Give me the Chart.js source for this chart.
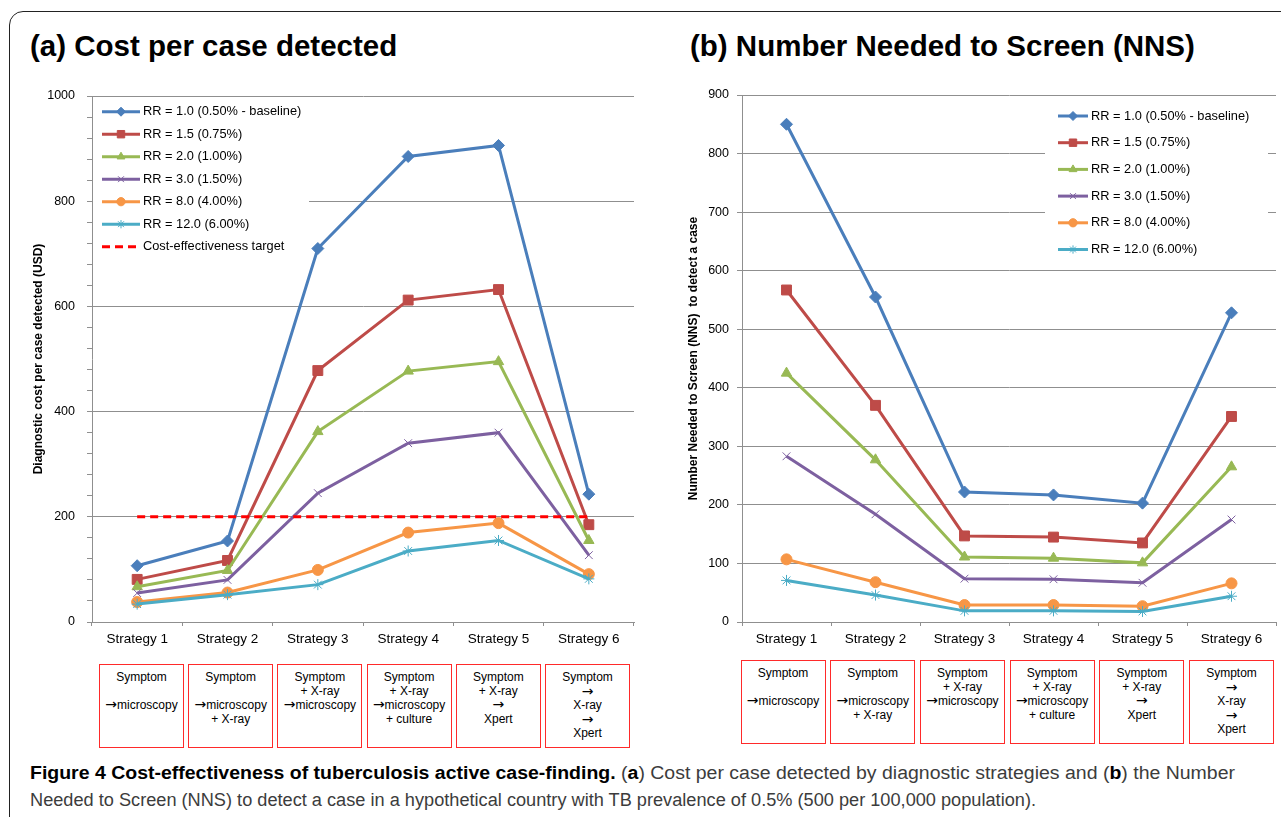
<!DOCTYPE html>
<html>
<head>
<meta charset="utf-8">
<script src="https://cdn.jsdelivr.net/npm/chart.js@4.4.1/dist/chart.umd.min.js"></script>
<style>
  body { margin: 0; background: #fff; width: 1281px; height: 817px; overflow: hidden; position: relative;
         font-family: 'Liberation Sans', Arial, sans-serif; }
  #frame { position: absolute; left: 9px; top: 11px; width: 1320px; height: 900px;
           border: 1.5px solid #222; border-radius: 14px; }
  .title { position: absolute; top: 29px; font-weight: bold; font-size: 29.5px; line-height: 34px;
           color: #000; white-space: nowrap; }
  canvas { position: absolute; top: 0; }
  .box { position: absolute; box-sizing: border-box; border: 1.5px solid #ff2a2a; font-size: 12px;
         line-height: 13.5px; text-align: center; padding-top: 6px; color: #000; }
  .box .ar { font-family: 'DejaVu Sans', sans-serif; font-size: 14px; line-height: 13.5px; }
  .cap { position: absolute; left: 30px; white-space: nowrap; line-height: 20px; font-size: 18px; color: #3c3c3c;
         font-family: 'Liberation Sans Narrow', 'Liberation Sans', sans-serif; transform-origin: 0 50%; }
  .cap b { color: #000; }
</style>
</head>
<body>
<div id="frame"></div>
<div class="title" style="left:30px">(a) Cost per case detected</div>
<div class="title" style="left:690px">(b) Number Needed to Screen (NNS)</div>
<canvas id="costChart" width="660" height="660" style="left:0px;width:660px;height:660px"></canvas>
<canvas id="nnsChart" width="621" height="660" style="left:660px;width:621px;height:660px"></canvas>
<div class="cap" id="cap1" style="top:763px"><b>Figure 4 Cost-effectiveness of tuberculosis active case-finding.</b> (<b>a</b>) Cost per case detected by diagnostic strategies and (<b>b</b>) the Number</div>
<div class="cap" id="cap2" style="top:790px">Needed to Screen (NNS) to detect a case in a hypothetical country with TB prevalence of 0.5% (500 per 100,000 population).</div>
<script>
const strategies = ['Strategy 1', 'Strategy 2', 'Strategy 3', 'Strategy 4', 'Strategy 5', 'Strategy 6'];
const strategyBoxes = [
  ['Symptom', '', '→microscopy'],
  ['Symptom', '', '→microscopy', '+ X-ray'],
  ['Symptom', '+ X-ray', '→microscopy'],
  ['Symptom', '+ X-ray', '→microscopy', '+ culture'],
  ['Symptom', '+ X-ray', '→', 'Xpert'],
  ['Symptom', '→', 'X-ray', '→', 'Xpert']
];
const seriesNames = ['RR = 1.0 (0.50% - baseline)', 'RR = 1.5 (0.75%)', 'RR = 2.0 (1.00%)',
                     'RR = 3.0 (1.50%)', 'RR = 8.0 (4.00%)', 'RR = 12.0 (6.00%)'];
const targetName = 'Cost-effectiveness target';

// (a) diagnostic cost per case detected (USD)
const costRR10 = [107, 154, 710, 885, 906, 243];
const costRR15 = [81, 117, 478, 612, 632, 185];
const costRR20 = [67, 98, 362, 477, 495, 155];
const costRR30 = [55, 80, 245, 340, 360, 127];
const costRR80 = [38, 56, 99, 170, 188, 91];
const costRR120 = [34, 52, 71, 135, 155, 82];
const costTarget = [200, 200, 200, 200, 200, 200];
const costTicks = [0, 200, 400, 600, 800, 1000];

// (b) number needed to screen
const nnsRR10 = [850, 555, 222, 217, 203, 528];
const nnsRR15 = [567, 370, 147, 145, 135, 351];
const nnsRR20 = [425, 277, 111, 109, 101, 265];
const nnsRR30 = [283, 184, 74, 73, 67, 175];
const nnsRR80 = [107, 68, 29, 29, 27, 66];
const nnsRR120 = [71, 46, 19, 19, 18, 44];
const nnsTicks = [0, 100, 200, 300, 400, 500, 600, 700, 800, 900];

const colors = ['#4a7ebb', '#be4b48', '#98b954', '#7d60a0', '#f79646', '#4bacc6'];
const markers = ['rectRot', 'rect', 'triangle', 'crossRot', 'circle', 'star'];
const markerSizes = [6, 7, 6, 5.5, 5.5, 5.5];
const gridColor = '#8f8f8f';

Chart.defaults.font.family = "'Liberation Sans', Arial, sans-serif";
Chart.defaults.color = '#000';

function series(name, values, i) {
  return {
    label: name,
    data: values,
    borderColor: colors[i],
    backgroundColor: colors[i],
    pointBackgroundColor: colors[i],
    pointBorderColor: colors[i],
    pointBorderWidth: 1,
    borderWidth: 3,
    pointStyle: markers[i],
    pointRadius: markerSizes[i],
    tension: 0,
    order: 6 - i
  };
}

// legend drawn inside the plot area, on a white patch
const insideLegend = {
  id: 'insideLegend',
  afterDatasetsDraw(chart, args, o) {
    const ctx = chart.ctx;
    ctx.save();
    ctx.fillStyle = '#fff';
    ctx.fillRect(o.box[0], o.box[1], o.box[2], o.box[3]);
    chart.data.datasets.forEach((ds, i) => {
      const y = o.y + i * o.step;
      ctx.strokeStyle = ds.borderColor;
      ctx.lineWidth = ds.borderWidth;
      ctx.setLineDash(ds.borderDash || []);
      ctx.beginPath();
      ctx.moveTo(o.x, y);
      ctx.lineTo(o.x + o.len, y);
      ctx.stroke();
      ctx.setLineDash([]);
      if (ds.pointRadius > 0 && Chart.helpers && Chart.helpers.drawPoint) {
        ctx.fillStyle = ds.pointBackgroundColor;
        ctx.strokeStyle = ds.pointBorderColor;
        ctx.lineWidth = ds.pointBorderWidth;
        Chart.helpers.drawPoint(ctx, {pointStyle: ds.pointStyle, radius: ds.pointRadius * 0.75,
                                      rotation: 0, borderWidth: ds.pointBorderWidth}, o.x + o.len / 2, y);
      }
      ctx.fillStyle = '#000';
      ctx.font = o.font;
      ctx.textAlign = 'left';
      ctx.textBaseline = 'middle';
      ctx.fillText(ds.label, o.x + o.len + o.gap, y);
    });
    ctx.restore();
  }
};

function makeChart(id, datasets, yMax, yStep, yTicks, yTitle, dims, legendOpts) {
  return new Chart(document.getElementById(id), {
    type: 'line',
    data: { labels: strategies, datasets: datasets },
    plugins: [insideLegend],
    options: {
      responsive: false,
      maintainAspectRatio: false,
      animation: false,
      layout: { autoPadding: false, padding: { top: dims.top, right: dims.right, left: 0, bottom: 0 } },
      plugins: {
        legend: { display: false },
        tooltip: { enabled: false },
        insideLegend: legendOpts
      },
      scales: {
        x: {
          offset: true,
          grid: { offset: true, drawOnChartArea: false, tickLength: 4, color: gridColor },
          border: { color: gridColor },
          ticks: { font: { size: 13.5 }, padding: 5, color: '#000', maxRotation: 0 },
          afterFit: s => { s.height = 38; }
        },
        y: {
          min: 0,
          max: yMax,
          grid: {
            tickLength: 5,
            tickColor: gridColor,
            color: c => yTicks.includes(c.tick.value) ? gridColor : 'rgba(0,0,0,0)'
          },
          border: { color: gridColor },
          ticks: {
            stepSize: yStep,
            font: { size: 12.5 },
            padding: dims.tickPad,
            color: '#000',
            callback: v => yTicks.includes(v) ? v : ''
          },
          title: { display: true, text: yTitle, font: { size: 12, weight: 'bold' },
                   padding: { top: dims.titlePad, bottom: 0 } },
          afterFit: s => { s.width = dims.yWidth; }
        }
      }
    }
  });
}

const costSets = [costRR10, costRR15, costRR20, costRR30, costRR80, costRR120]
  .map((v, i) => series(seriesNames[i], v, i));
costSets.push({ label: targetName, data: costTarget, borderColor: '#ff0000', backgroundColor: '#ff0000',
                borderWidth: 3, borderDash: [8, 5], pointRadius: 0, tension: 0, order: 0 });

makeChart('costChart', costSets, 1000, 40, costTicks, 'Diagnostic cost per case detected (USD)',
  { top: 96, right: 26, yWidth: 92, tickPad: 12, titlePad: 31 },
  { box: [93, 99, 216, 159], x: 102, len: 38, gap: 3, y: 111.7, step: 22.5, font: "12.8px 'Liberation Sans'" });

const nnsSets = [nnsRR10, nnsRR15, nnsRR20, nnsRR30, nnsRR80, nnsRR120]
  .map((v, i) => series(seriesNames[i], v, i));

makeChart('nnsChart', nnsSets, 900, 100, nnsTicks, 'Number Needed to Screen (NNS)  to detect a case',
  { top: 95, right: 5, yWidth: 82, tickPad: 8, titlePad: 26 },
  { box: [385, 100, 223, 162], x: 398, len: 30, gap: 3, y: 116, step: 26.7, font: "12.8px 'Liberation Sans'" });

// strategy boxes under each x axis
function addBoxes(left0, top, pitch) {
  strategyBoxes.forEach((lines, i) => {
    const d = document.createElement('div');
    d.className = 'box';
    d.style.left = (left0 + i * pitch) + 'px';
    d.style.top = top + 'px';
    d.style.width = '85px';
    d.style.height = '84px';
    d.innerHTML = lines.map(t => t === '' ? '&nbsp;' : t.replace('→', '<span class="ar">→</span>')).join('<br>');
    document.body.appendChild(d);
  });
}
addBoxes(99, 664, 89.2);
addBoxes(740.5, 660, 89.7);

// fit caption lines to their measured widths in the figure
[['cap1', 1205], ['cap2', 1006]].forEach(([id, w]) => {
  const el = document.getElementById(id);
  const cur = el.getBoundingClientRect().width;
  el.style.transform = 'scaleX(' + (w / cur) + ')';
});
</script>
</body>
</html>
